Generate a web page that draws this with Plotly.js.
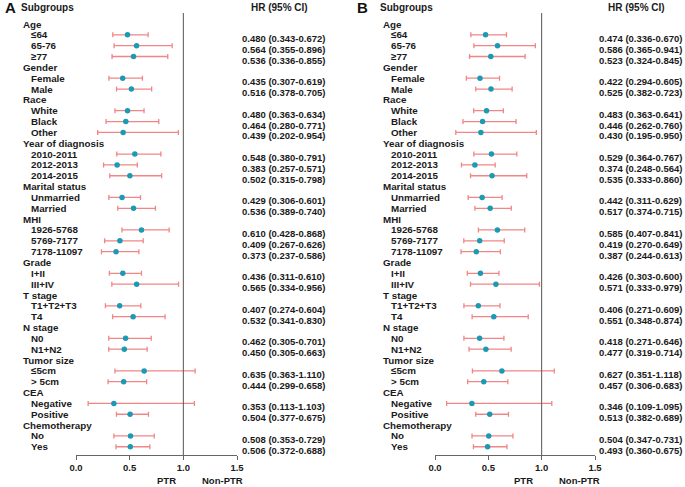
<!DOCTYPE html>
<html>
<head>
<meta charset="utf-8">
<script src="https://cdn.plot.ly/plotly-3.0.1.min.js"></script>
<style>html,body{margin:0;padding:0;background:#fff;}#chart{width:685px;height:487px;}</style>
</head>
<body>
<div id="chart"></div>
<script>
// ---- Data ----
const groups = ["Age","Gender","Race","Year of diagnosis","Marital status","MHI","Grade","T stage","N stage","Tumor size","CEA","Chemotherapy"];
const subgroups = [
  ["≤64","65-76","≥77"],
  ["Female","Male"],
  ["White","Black","Other"],
  ["2010-2011","2012-2013","2014-2015"],
  ["Unmarried","Married"],
  ["1926-5768","5769-7177","7178-11097"],
  ["I+II","III+IV"],
  ["T1+T2+T3","T4"],
  ["N0","N1+N2"],
  ["≤5cm","> 5cm"],
  ["Negative","Positive"],
  ["No","Yes"]
];
const hrA  = [0.480,0.564,0.536,0.435,0.516,0.480,0.464,0.439,0.548,0.383,0.502,0.429,0.536,0.610,0.409,0.373,0.436,0.565,0.407,0.532,0.462,0.450,0.635,0.444,0.353,0.504,0.508,0.506];
const lowA = [0.343,0.355,0.336,0.307,0.378,0.363,0.280,0.202,0.380,0.257,0.315,0.306,0.389,0.428,0.267,0.237,0.311,0.334,0.274,0.341,0.305,0.305,0.363,0.299,0.113,0.377,0.353,0.372];
const upA  = [0.672,0.896,0.855,0.619,0.705,0.634,0.771,0.954,0.791,0.571,0.798,0.601,0.740,0.868,0.626,0.586,0.610,0.956,0.604,0.830,0.701,0.663,1.110,0.658,1.103,0.675,0.729,0.688];
const hrB  = [0.474,0.586,0.523,0.422,0.525,0.483,0.446,0.430,0.529,0.374,0.535,0.442,0.517,0.585,0.419,0.387,0.426,0.571,0.406,0.551,0.418,0.477,0.627,0.457,0.346,0.513,0.504,0.493];
const lowB = [0.336,0.365,0.324,0.294,0.382,0.363,0.262,0.195,0.364,0.248,0.333,0.311,0.374,0.407,0.270,0.244,0.303,0.333,0.271,0.348,0.271,0.319,0.351,0.306,0.109,0.382,0.347,0.360];
const upB  = [0.670,0.941,0.845,0.605,0.723,0.641,0.760,0.950,0.767,0.564,0.860,0.629,0.715,0.841,0.649,0.613,0.600,0.979,0.609,0.874,0.646,0.714,1.118,0.683,1.095,0.689,0.731,0.675];
const xTickVals = [0, 0.5, 1.0, 1.5];
const xTickText = ["0.0","0.5","1.0","1.5"];

// ---- Build rows ----
const W = 685, H = 487;
const plotTop = 13, plotBot = 455;
const rowTop = 24, rowStep = 10.84;
const rows = [];
let k = 0;
groups.forEach((g, gi) => {
  rows.push({label: g, header: true, idx: -1});
  subgroups[gi].forEach(s => { rows.push({label: s, header: false, idx: k}); k++; });
});
const dataRowPos = [];
rows.forEach((r, i) => { if (!r.header) dataRowPos.push(i); });

const px2px = x => x / W;
const py2paper = y => (plotBot - y) / (plotBot - plotTop);

const fontFam = "Liberation Sans, Arial, Helvetica, sans-serif";
const txtColor = "#1a1a1a";
const barColor = "#f28585";
const dotColor = "#1b9ab4";

function trace(hr, lo, up, xa) {
  return {
    type: "scatter", mode: "markers",
    x: hr, y: dataRowPos, xaxis: xa, yaxis: "y",
    marker: {color: dotColor, size: 5.5},
    error_x: {type: "data", symmetric: false,
      array: hr.map((v, i) => up[i] - v),
      arrayminus: hr.map((v, i) => v - lo[i]),
      color: barColor, thickness: 1.3, width: 2.5},
    hoverinfo: "skip", showlegend: false
  };
}

const annotations = [];
function panel(letter, hr, lo, up, xLetter, xHead, xSub, xSubHead, xHrRight, xHrCenter, xPTR, xNon) {
  annotations.push({xref: "paper", yref: "paper", x: px2px(xLetter), y: py2paper(7), xanchor: "left", yanchor: "middle",
    text: letter, showarrow: false, font: {family: fontFam, size: 15, color: "#111", weight: "bold"}});
  annotations.push({xref: "paper", yref: "paper", x: px2px(xSubHead), y: py2paper(7), xanchor: "left", yanchor: "middle",
    text: "Subgroups", showarrow: false, font: {family: fontFam, size: 10, color: txtColor, weight: "bold"}});
  annotations.push({xref: "paper", yref: "paper", x: px2px(xHrCenter), y: py2paper(7), xanchor: "center", yanchor: "middle",
    text: "HR (95% CI)", showarrow: false, font: {family: fontFam, size: 10, color: txtColor, weight: "bold"}});
  rows.forEach((r, i) => {
    annotations.push({xref: "paper", yref: "y", x: px2px(r.header ? xHead : xSub), y: i, xanchor: "left", yanchor: "middle",
      text: r.label, showarrow: false, font: {family: fontFam, size: 9.8, color: txtColor, weight: "bold"}});
    if (!r.header) {
      const j = r.idx;
      annotations.push({xref: "paper", yref: "y", x: px2px(xHrRight), y: i, yshift: -3.5, xanchor: "right", yanchor: "middle",
        text: hr[j].toFixed(3) + " (" + lo[j].toFixed(3) + "-" + up[j].toFixed(3) + ")", showarrow: false,
        font: {family: fontFam, size: 9.5, color: txtColor, weight: "bold"}});
    }
  });
  annotations.push({xref: "paper", yref: "paper", x: px2px(xPTR), y: py2paper(480), xanchor: "center", yanchor: "middle",
    text: "PTR", showarrow: false, font: {family: fontFam, size: 9.5, color: txtColor, weight: "bold"}});
  annotations.push({xref: "paper", yref: "paper", x: px2px(xNon), y: py2paper(480), xanchor: "center", yanchor: "middle",
    text: "Non-PTR", showarrow: false, font: {family: fontFam, size: 9.5, color: txtColor, weight: "bold"}});
}
panel("A", hrA, lowA, upA, 3, 21, 29, 19, 327, 279, 166, 222);
panel("B", hrB, lowB, upB, 355, 381, 389, 378, 684, 636, 523, 579);

function xax(d0, d1) {
  return {domain: [d0 / W, d1 / W], range: [0, 1.5], anchor: "y",
    tickvals: xTickVals, ticktext: xTickText, ticks: "outside", ticklen: 4, tickcolor: "#666", tickwidth: 1,
    showline: true, linecolor: "#666", linewidth: 1, showgrid: false, zeroline: false, fixedrange: true,
    tickfont: {family: fontFam, size: 9.5, color: txtColor, weight: "bold"}};
}

const layout = {
  width: W, height: H,
  margin: {l: 0, r: 0, t: plotTop, b: H - plotBot, pad: 0},
  paper_bgcolor: "#fff", plot_bgcolor: "rgba(0,0,0,0)",
  xaxis: xax(76, 237),
  xaxis2: xax(435, 595),
  yaxis: {range: [(plotBot - rowTop) / rowStep, (plotTop - rowTop) / rowStep], visible: false, fixedrange: true},
  shapes: [
    {type: "line", xref: "x", yref: "paper", x0: 1, x1: 1, y0: 0, y1: 1, line: {color: "#555", width: 1}},
    {type: "line", xref: "x2", yref: "paper", x0: 1, x1: 1, y0: 0, y1: 1, line: {color: "#555", width: 1}}
  ],
  annotations: annotations,
  showlegend: false
};

Plotly.newPlot("chart", [trace(hrA, lowA, upA, "x"), trace(hrB, lowB, upB, "x2")], layout, {staticPlot: true, displayModeBar: false});
</script>
</body>
</html>
